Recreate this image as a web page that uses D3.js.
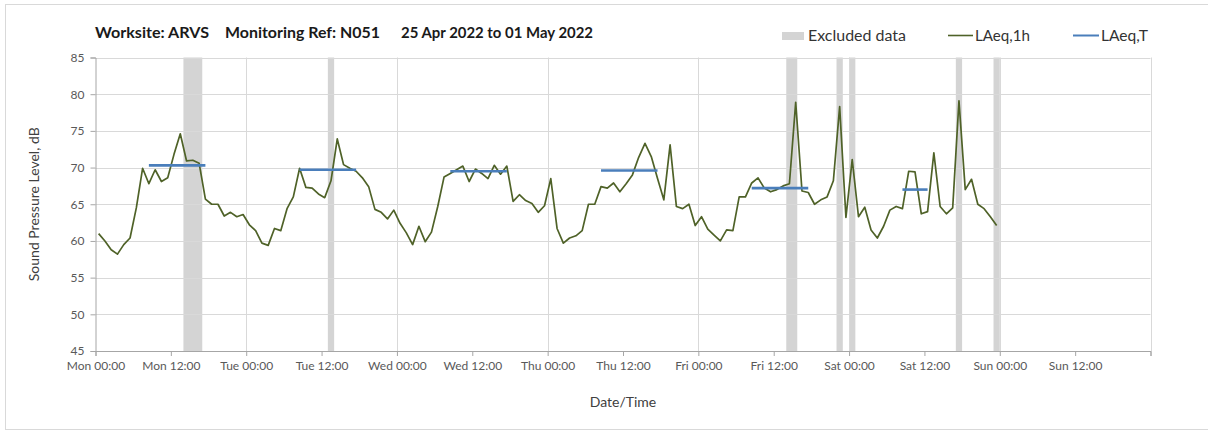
<!DOCTYPE html>
<html>
<head>
<meta charset="utf-8">
<script src="https://cdn.jsdelivr.net/npm/d3@7"></script>
<style>
  html, body { margin: 0; padding: 0; background: #ffffff; }
  svg { display: block; font-family: Lato, "Open Sans", sans-serif; }
</style>
</head>
<body>
<svg id="chart" width="1208" height="432"></svg>
<script>
// ---------------- DATA ----------------
const titleParts = ["Worksite: ARVS", "Monitoring Ref: N051", "25 Apr 2022 to 01 May 2022"];
const firstReading = "2022-04-25T00:30:00Z";   // hourly LAeq,1h readings, plotted at mid-hour
const laeq1h = [
  61.0, 60.0, 58.8, 58.2, 59.5, 60.4, 64.5, 69.9, 67.8, 69.7, 68.1, 68.6,
  71.8, 74.6, 70.9, 71.0, 70.6, 65.7, 65.0, 65.0, 63.4, 63.9, 63.3, 63.6,
  62.2, 61.4, 59.7, 59.4, 61.7, 61.4, 64.4, 66.0, 69.9, 67.3, 67.2, 66.4,
  65.9, 68.2, 73.9, 70.4, 69.9, 69.5, 68.6, 67.4, 64.3, 63.9, 63.0, 64.2,
  62.4, 61.1, 59.5, 62.0, 59.9, 61.2, 64.7, 68.7, 69.2, 69.7, 70.2, 68.1,
  69.8, 69.2, 68.5, 70.3, 69.1, 70.2, 65.4, 66.3, 65.5, 65.1, 63.9, 64.8,
  68.5, 61.7, 59.7, 60.4, 60.7, 61.4, 65.0, 65.0, 67.4, 67.2, 67.9, 66.7,
  67.8, 69.0, 71.4, 73.3, 71.5, 68.5, 65.6, 73.1, 64.7, 64.4, 65.0, 62.1,
  63.3, 61.6, 60.8, 60.0, 61.5, 61.4, 66.0, 66.0, 67.9, 68.6, 67.2, 66.7,
  67.0, 67.5, 67.8, 78.9, 66.8, 66.6, 65.0, 65.6, 66.0, 68.2, 78.3, 63.2,
  71.1, 63.3, 64.6, 61.5, 60.4, 62.0, 64.2, 64.7, 64.4, 69.5, 69.4, 63.7,
  64.0, 72.0, 64.7, 63.7, 64.5, 79.1, 67.0, 68.4, 65.0, 64.4, 63.3, 62.1
];
const laeqTStart = ["2022-04-25T08:30Z", "2022-04-26T08:30Z", "2022-04-27T08:30Z", "2022-04-28T08:30Z", "2022-04-29T08:30Z", "2022-04-30T08:30Z"];
const laeqTEnd   = ["2022-04-25T17:30Z", "2022-04-26T17:30Z", "2022-04-27T17:30Z", "2022-04-28T17:30Z", "2022-04-29T17:30Z", "2022-04-30T12:30Z"];
const laeqTValue = [70.3, 69.7, 69.5, 69.6, 67.2, 67.0];
const excludedStart = ["2022-04-25T14:00Z", "2022-04-26T13:00Z", "2022-04-29T14:00Z", "2022-04-29T22:00Z", "2022-04-30T00:00Z", "2022-04-30T17:00Z", "2022-04-30T23:00Z"];
const excludedEnd   = ["2022-04-25T17:00Z", "2022-04-26T14:00Z", "2022-04-29T15:45Z", "2022-04-29T23:00Z", "2022-04-30T01:00Z", "2022-04-30T18:00Z", "2022-05-01T00:00Z"];
const xDomain = ["2022-04-25T00:00Z", "2022-05-02T00:00Z"];
const yTicks = [45, 50, 55, 60, 65, 70, 75, 80, 85];
const legendLabels = ["Excluded data", "LAeq,1h", "LAeq,T"];
const yAxisTitle = "Sound Pressure Level, dB";
const xAxisTitle = "Date/Time";

// ---------------- DRAW ----------------
const svg = d3.select("#chart");
const plot = { left: 95.5, right: 1150.5, top: 57.5, bottom: 351 };
const x = d3.scaleUtc().domain(xDomain.map(d => new Date(d))).range([plot.left, plot.right]);
const y = d3.scaleLinear().domain([45, 85]).range([plot.bottom, plot.top]);

const t0 = new Date(firstReading).getTime();
const series = laeq1h.map((v, i) => ({ t: new Date(t0 + i * 3600e3), v }));

// chart-area border
svg.append("rect").attr("x", 5.5).attr("y", 4.5).attr("width", 1220).attr("height", 425)
  .attr("fill", "none").attr("stroke", "#d9d9d9").attr("stroke-width", 1);

// excluded bands
svg.append("g").selectAll("rect").data(excludedStart.map((s, i) => [new Date(s), new Date(excludedEnd[i])]))
  .join("rect")
  .attr("x", d => x(d[0])).attr("width", d => x(d[1]) - x(d[0]))
  .attr("y", y(85)).attr("height", y(45) - y(85))
  .attr("fill", "#d4d4d4");

// horizontal gridlines
svg.append("g").selectAll("line").data(yTicks.filter(v => v > 45)).join("line")
  .attr("x1", plot.left).attr("x2", plot.right)
  .attr("y1", d => Math.round(y(d)) + 0.5).attr("y2", d => Math.round(y(d)) + 0.5)
  .attr("stroke", "#d9d9d9").attr("stroke-width", 1);

// vertical gridlines (daily)
svg.append("g").selectAll("line").data(d3.utcDay.range(new Date(xDomain[0]), new Date("2022-05-02T00:01Z")).slice(1))
  .join("line")
  .attr("x1", d => Math.round(x(d)) + 0.5).attr("x2", d => Math.round(x(d)) + 0.5)
  .attr("y1", plot.top).attr("y2", plot.bottom)
  .attr("stroke", "#d9d9d9").attr("stroke-width", 1);

// y axis
const yAxis = d3.axisLeft(y).tickValues(yTicks).tickSize(5).tickPadding(6).tickFormat(d3.format("d"));
const gy = svg.append("g").attr("transform", `translate(${plot.left},0)`).call(yAxis);
gy.select(".domain").attr("stroke", "#a6a6a6");
gy.selectAll(".tick line").attr("stroke", "#a6a6a6");
gy.selectAll(".tick text").attr("fill", "#595959").style("font-size", "12px").style("font-family", "Lato, sans-serif");

// x axis
const fmt = d3.utcFormat("%a %H:%M");
const xAxis = d3.axisBottom(x).ticks(d3.utcHour.every(12)).tickSize(5).tickPadding(5)
  .tickFormat(d => d.getTime() >= new Date(xDomain[1]).getTime() ? "" : fmt(d));
const gx = svg.append("g").attr("transform", `translate(0,${plot.bottom})`).call(xAxis);
gx.select(".domain").attr("stroke", "#a6a6a6");
gx.selectAll(".tick line").attr("stroke", "#a6a6a6");
gx.selectAll(".tick text").attr("fill", "#595959").style("font-size", "12px").style("font-family", "Lato, sans-serif");

// LAeq,1h line
svg.append("path").datum(series)
  .attr("d", d3.line().x(d => x(d.t)).y(d => y(d.v)))
  .attr("fill", "none").attr("stroke", "#4f6228").attr("stroke-width", 1.7).attr("stroke-linejoin", "round");

// LAeq,T segments
svg.append("g").selectAll("line").data(laeqTValue.map((v, i) => ({ a: new Date(laeqTStart[i]), b: new Date(laeqTEnd[i]), v })))
  .join("line")
  .attr("x1", d => x(d.a)).attr("x2", d => x(d.b))
  .attr("y1", d => y(d.v)).attr("y2", d => y(d.v))
  .attr("stroke", "#4a7ebb").attr("stroke-width", 2.6);

// title
const titleX = [95, 225, 401];
const titleW = [114, 155, 192];
svg.append("g").selectAll("text").data(titleParts).join("text")
  .attr("x", (d, i) => titleX[i]).attr("y", 38)
  .attr("textLength", (d, i) => titleW[i]).attr("lengthAdjust", "spacingAndGlyphs")
  .attr("fill", "#1a1a1a").style("font-size", "16px").style("font-weight", "bold")
  .text(d => d);

// legend
const lg = svg.append("g");
lg.append("rect").attr("x", 782).attr("y", 32).attr("width", 22).attr("height", 8).attr("fill", "#d4d4d4");
lg.append("line").attr("x1", 948).attr("x2", 973).attr("y1", 35.5).attr("y2", 35.5).attr("stroke", "#4f6228").attr("stroke-width", 1.6);
lg.append("line").attr("x1", 1073).attr("x2", 1099).attr("y1", 35.5).attr("y2", 35.5).attr("stroke", "#4a7ebb").attr("stroke-width", 2);
const legX = [808, 975, 1101];
const legW = [98, 55, 47];
lg.selectAll("text").data(legendLabels).join("text")
  .attr("x", (d, i) => legX[i]).attr("y", 40.5)
  .attr("textLength", (d, i) => legW[i]).attr("lengthAdjust", "spacingAndGlyphs")
  .attr("fill", "#333333").style("font-size", "14.5px")
  .text(d => d);

// axis titles
svg.append("text").attr("transform", `translate(39,${(plot.top + plot.bottom) / 2}) rotate(-90)`)
  .attr("text-anchor", "middle").attr("fill", "#404040").style("font-size", "14px")
  .text(yAxisTitle);
svg.append("text").attr("x", (plot.left + plot.right) / 2).attr("y", 407)
  .attr("text-anchor", "middle").attr("fill", "#404040").style("font-size", "14px")
  .text(xAxisTitle);
</script>
</body>
</html>
